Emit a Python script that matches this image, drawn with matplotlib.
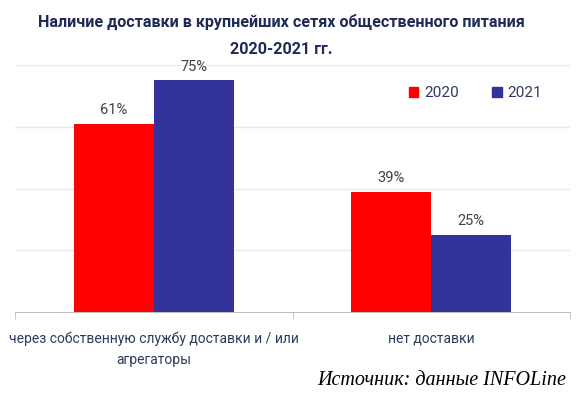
import matplotlib.pyplot as plt
from matplotlib.patches import Patch
import numpy as np

categories = ['через собственную службу доставки и / или\nагрегаторы', 'нет доставки']
years = ['2020', '2021']
values_2020 = [61, 39]
values_2021 = [75, 25]

red = '#FF0000'
blue = '#333399'
navy = '#1F2A55'
text_col = '#2E3B5E'

plt.rcParams['font.family'] = ['Roboto', 'DejaVu Sans']

fig = plt.figure(figsize=(5.88, 3.96), dpi=100)
ax = fig.add_axes([15 / 588, 84 / 396, 555 / 588, 247 / 396])

x = np.arange(len(categories))
w = 0.288
b1 = ax.bar(x - w / 2, values_2020, w, color=red, label=years[0], zorder=3)
b2 = ax.bar(x + w / 2, values_2021, w, color=blue, label=years[1], zorder=3)

for bars in (b1, b2):
    for r in bars:
        ax.text(r.get_x() + r.get_width() / 2, r.get_height() + 2.2, f'{r.get_height():.0f}%',
                ha='center', va='bottom', fontsize=10.5, color='#404040')

ax.set_xlim(-0.5, 1.5)
ax.set_ylim(0, 80)
ax.set_yticks([20, 40, 60, 80])
ax.yaxis.grid(True, color='#E8E8E8', linewidth=1, zorder=0)
ax.tick_params(axis='y', length=0, labelleft=False)

ax.set_xticks(x)
ax.set_xticklabels(categories, fontsize=10, color=text_col, linespacing=1.6)
ax.tick_params(axis='x', length=0, pad=14)
ax.set_xticks([-0.5, 0.5, 1.5], minor=True)
ax.tick_params(axis='x', which='minor', length=5, color='#BFBFBF', direction='out')

for s in ['top', 'right', 'left']:
    ax.spines[s].set_visible(False)
ax.spines['bottom'].set_color('#BFBFBF')

handles = [Patch(color=red), Patch(color=blue)]
ax.legend(handles, years, loc='upper right', bbox_to_anchor=(0.975, 0.97), ncol=2,
          frameon=False, fontsize=11, handlelength=0.6, handleheight=0.6,
          handletextpad=0.4, columnspacing=2.2, labelcolor=text_col)

fig.text(0.478, 0.91, 'Наличие доставки в крупнейших сетях общественного питания\n2020-2021 гг.',
         ha='center', va='center', fontsize=11.6, fontweight='bold', color=navy, linespacing=1.95)

fig.text(0.962, 0.04, 'Источник: данные INFOLine', ha='right', va='center',
         fontsize=14.5, style='italic', family=['Liberation Serif'], color='black')

fig.savefig('out.png', dpi=100)
